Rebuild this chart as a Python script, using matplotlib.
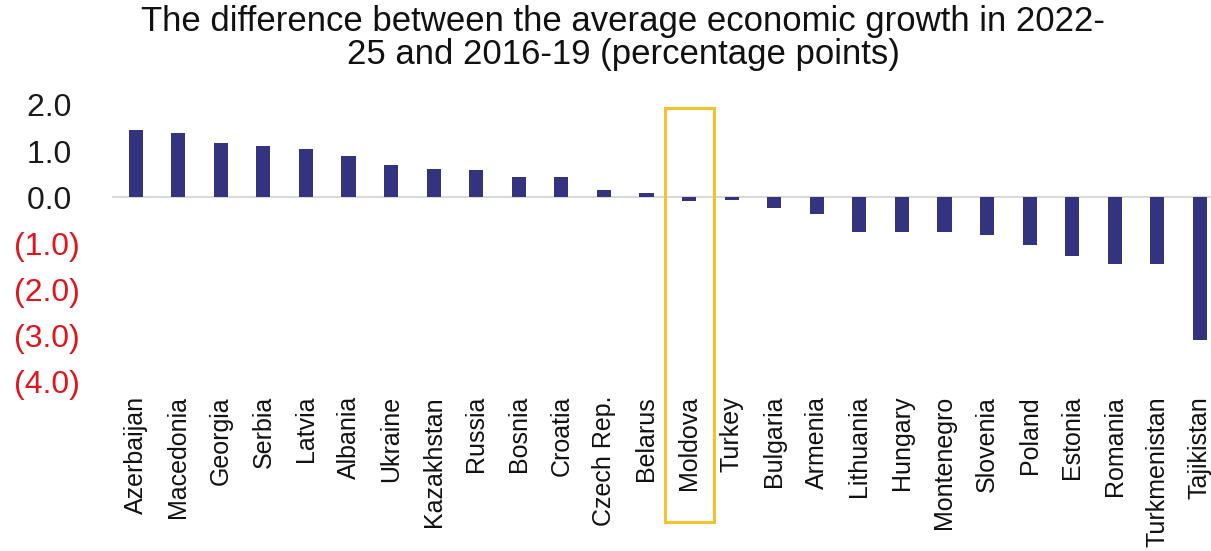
import matplotlib
matplotlib.use("Agg")
import matplotlib.pyplot as plt
from matplotlib.patches import Rectangle
import matplotlib.transforms as mtransforms

plt.rcParams['font.family'] = ['Liberation Sans', 'DejaVu Sans']

countries = ["Azerbaijan", "Macedonia", "Georgia", "Serbia", "Latvia", "Albania",
             "Ukraine", "Kazakhstan", "Russia", "Bosnia", "Croatia", "Czech Rep.",
             "Belarus", "Moldova", "Turkey", "Bulgaria", "Armenia", "Lithuania",
             "Hungary", "Montenegro", "Slovenia", "Poland", "Estonia", "Romania",
             "Turkmenistan", "Tajikistan"]
values = [1.46, 1.40, 1.17, 1.11, 1.05, 0.89, 0.71, 0.61, 0.60, 0.43, 0.43, 0.16,
          0.09, -0.07, -0.05, -0.24, -0.36, -0.76, -0.76, -0.75, -0.82, -1.04,
          -1.27, -1.44, -1.44, -3.09]
yticks = [2.0, 1.0, 0.0, -1.0, -2.0, -3.0, -4.0]
ytick_labels = ["2.0", "1.0", "0.0", "(1.0)", "(2.0)", "(3.0)", "(4.0)"]
highlight = "Moldova"
title = "The difference between the average economic growth in 2022-\n25 and 2016-19 (percentage points)"

W, H = 1211, 551
fig = plt.figure(figsize=(W / 100, H / 100), dpi=100)
ax = fig.add_axes([112 / W, 1 - 382 / H, 1 - 112 / W, (382 - 105) / H])

x = list(range(len(countries)))
ax.bar(x, values, width=0.33, color="#333380", zorder=3)
ax.axhline(0, color="#D9D9D9", lw=1.5, zorder=2)

ax.set_xlim(-0.555, 25.26)
ax.set_ylim(-4, 2)
for s in ax.spines.values():
    s.set_visible(False)

ax.set_yticks(yticks)
pad_char = "\u2008"
lbls = [t + ("" if t.startswith("(") else pad_char) for t in ytick_labels]
ax.set_yticklabels(lbls, fontsize=23)
for lab, v in zip(ax.get_yticklabels(), yticks):
    lab.set_color("#E3141B" if v < 0 else "#1a1a1a")
ax.tick_params(axis="y", length=0, pad=23)

ax.set_xticks(x)
ax.set_xticklabels(countries, rotation=90, fontsize=18, color="#111111")
ax.tick_params(axis="x", length=0, pad=10)

# highlight box around Moldova
i = countries.index(highlight)
trans = mtransforms.blended_transform_factory(ax.transData, fig.transFigure)
rect = Rectangle((i - 0.575, 1 - 522 / H), 1.15, (522 - 108) / H, transform=trans,
                 fill=False, edgecolor="#F4C430", lw=2.2, clip_on=False, zorder=5)
fig.add_artist(rect)

fig.text(623 / W, 1 - 38 / H, title, ha="center", va="center", fontsize=25,
         linespacing=0.97, color="#111111")

fig.savefig("out.png", dpi=100)
